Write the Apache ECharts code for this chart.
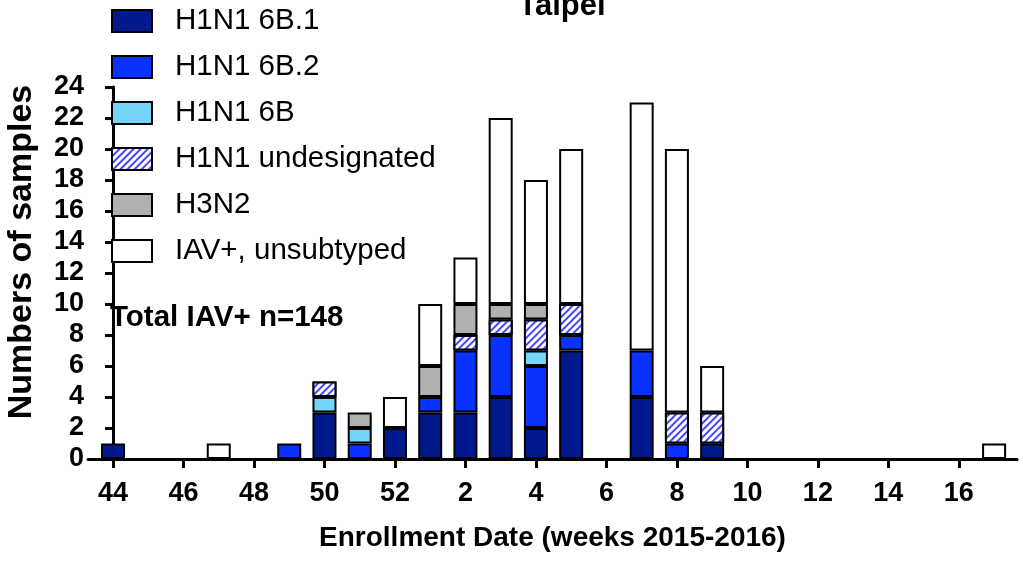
<!DOCTYPE html>
<html>
<head>
<meta charset="utf-8">
<script src="https://cdn.jsdelivr.net/npm/echarts@6/dist/echarts.min.js"></script>
<style>
  html, body { margin: 0; padding: 0; background: #fff; }
  #chart { width: 1023px; height: 561px; }
</style>
</head>
<body>
<div id="chart"></div>
<script>
// semanas de inscripcion (2015-2016)
const weeks = ['44','45','46','47','48','49','50','51','52','1','2','3','4','5','6','7','8','9','10','11','12','13','14','15','16','17'];
const labelWeeks = ['44','46','48','50','52','2','4','6','8','10','12','14','16'];

// cantidad de muestras por subtipo y semana
const h1n1_6b1   = [1,0,0,0,0,0,3,0,2,3,3,4,2,7,0,4,0,1,0,0,0,0,0,0,0,0];
const h1n1_6b2   = [0,0,0,0,0,1,0,1,0,1,4,4,4,1,0,3,1,0,0,0,0,0,0,0,0,0];
const h1n1_6b    = [0,0,0,0,0,0,1,1,0,0,0,0,1,0,0,0,0,0,0,0,0,0,0,0,0,0];
const h1n1_undes = [0,0,0,0,0,0,1,0,0,0,1,1,2,2,0,0,2,2,0,0,0,0,0,0,0,0];
const h3n2       = [0,0,0,0,0,0,0,1,0,2,2,1,1,0,0,0,0,0,0,0,0,0,0,0,0,0];
const unsubtyped = [0,0,0,1,0,0,0,0,2,4,3,12,8,10,0,16,17,3,0,0,0,0,0,0,0,1];

const FONT = 'Liberation Sans, Arial, Helvetica, sans-serif';

const chart = echarts.init(document.getElementById('chart'));

const labelIdx = labelWeeks.map(w => weeks.indexOf(w));

// [valor, indice de semana] -> el valor va primero para que se apile en y
// los ceros se omiten para no dibujar bordes vacios
const toPairs = arr => arr.map((v, i) => [v === 0 ? '-' : v, i]);

const makeSeries = (name, arr, color, decal) => ({
  name: name,
  type: 'bar',
  stack: 'total',
  barWidth: 24,
  encode: { x: 1, y: 0 },
  data: toPairs(arr),
  itemStyle: {
    color: color,
    borderColor: '#000',
    borderWidth: 2,
    decal: decal
  },
  emphasis: { disabled: true }
});

// rayado diagonal para "undesignated"
const hatch = {
  symbol: 'rect',
  symbolSize: 1,
  dashArrayX: [1, 0],
  dashArrayY: [1.6, 2.8],
  rotation: -Math.PI / 4,
  color: '#4646ff',
  backgroundColor: '#ffffff'
};

chart.setOption({
  animation: false,
  title: {
    text: 'Taipei',
    left: 557,
    textAlign: 'center',
    top: -14,
    textStyle: { fontFamily: FONT, fontSize: 31, fontWeight: 'bold', color: '#000' }
  },
  legend: {
    orient: 'vertical',
    left: 106,
    top: 1,
    icon: 'rect',
    itemWidth: 40,
    itemHeight: 22,
    itemGap: 16,
    selectedMode: false,
    textStyle: { fontFamily: FONT, fontSize: 29.5, color: '#000', padding: [0, 0, 0, 18] },
    data: ['H1N1 6B.1', 'H1N1 6B.2', 'H1N1 6B', 'H1N1 undesignated', 'H3N2', 'IAV+, unsubtyped']
  },
  grid: { left: 88, right: 6, top: 87, bottom: 102 },
  xAxis: {
    type: 'value',
    min: -0.71,
    max: 25.65,
    name: 'Enrollment Date (weeks 2015-2016)',
    nameLocation: 'middle',
    nameGap: 65,
    nameTextStyle: { fontFamily: FONT, fontSize: 28, fontWeight: 'bold', color: '#000' },
    splitLine: { show: false },
    axisLine: { onZero: false, lineStyle: { color: '#000', width: 3 } },
    axisTick: { show: true, customValues: labelIdx, length: 9, lineStyle: { color: '#000', width: 3 } },
    axisLabel: {
      customValues: labelIdx,
      formatter: v => weeks[Math.round(v)],
      margin: 21,
      fontFamily: FONT, fontSize: 27, fontWeight: 'bold', color: '#000'
    }
  },
  yAxis: {
    type: 'value',
    min: 0,
    max: 24,
    interval: 2,
    splitLine: { show: false },
    axisLine: { show: true, lineStyle: { color: '#000', width: 3 } },
    axisTick: { show: true, length: 8, lineStyle: { color: '#000', width: 3 } },
    axisLabel: { margin: 4, fontFamily: FONT, fontSize: 27, fontWeight: 'bold', color: '#000' }
  },
  graphic: [
    {
      type: 'text',
      left: 110,
      top: 303,
      style: { text: 'Total IAV+ n=148', fontFamily: FONT, fontSize: 29.5, fontWeight: 'bold', fill: '#000' }
    },
    {
      type: 'text',
      x: 22,
      y: 252,
      rotation: Math.PI / 2,
      style: {
        text: 'Numbers of samples',
        fontFamily: FONT, fontSize: 34, fontWeight: 'bold', fill: '#000',
        align: 'center', verticalAlign: 'middle'
      }
    }
  ],
  series: [
    makeSeries('H1N1 6B.1', h1n1_6b1, '#001a8e'),
    makeSeries('H1N1 6B.2', h1n1_6b2, '#0a32ff'),
    makeSeries('H1N1 6B', h1n1_6b, '#74d5fb'),
    makeSeries('H1N1 undesignated', h1n1_undes, '#ffffff', hatch),
    makeSeries('H3N2', h3n2, '#b0b0b2'),
    makeSeries('IAV+, unsubtyped', unsubtyped, '#ffffff')
  ]
});
</script>
</body>
</html>
